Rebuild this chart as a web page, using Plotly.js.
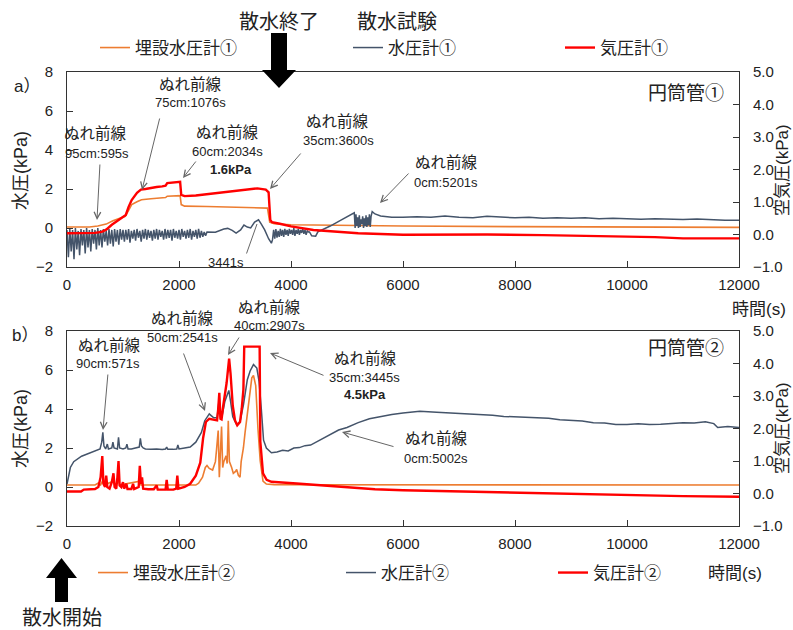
<!DOCTYPE html>
<html>
<head>
<meta charset="utf-8">
<script src="https://cdn.plot.ly/plotly-3.0.1.min.js"></script>
<style>
  html, body { margin: 0; padding: 0; background: #fff; }
  #chart { width: 793px; height: 630px; }
</style>
</head>
<body>
<div id="chart"></div>
<script>
// ---------- 円筒管① (time in s, pressure in kPa) ----------
const tOrange1 = [0,400,550,700,820,950,1040,1100,1155,1250,1330,1500,1660,1760,1790,1900,2020,2040,2100,2500,3000,3500,3580,3620,3700,4000,5000,6000,8000,10000,12000];
const vOrange1 = [0.05,0.05,0.1,0.2,0.37,0.5,0.6,0.9,1.2,1.35,1.45,1.5,1.54,1.56,1.63,1.64,1.66,1.2,1.12,1.1,1.08,1.06,1.02,0.3,0.22,0.17,0.12,0.1,0.07,0.05,0.03];

// 水圧計① : sampled bursts (start, interval) + explicit points
const blue1BurstA = [-0.1,-1.5,-0.05,-1.2,-0.1,-1.6,0.0,-1.1,-0.15,-1.4,-0.05,-0.9,-0.1,-1.3,0.0,-1.0,-0.1,-1.2,-0.05,-0.8,-0.1,-1.1,0.0,-0.9,-0.1,-1.0,-0.05,-0.7,-0.15,-0.9,-0.05,-0.8,-0.1,-0.95,-0.05,-0.7,-0.1,-0.85,-0.05,-0.6,-0.1,
  -0.7,-0.1,-0.6,-0.05,-0.75,-0.15,-0.55,-0.1,-0.65,-0.05,-0.5,-0.15,-0.7,-0.1,-0.55,-0.05,-0.6,-0.1,-0.5,-0.15,-0.65,-0.1,-0.55,-0.05,-0.6,-0.1,-0.45,-0.15,-0.6,-0.05,-0.55,-0.1,-0.5,-0.1,-0.65,-0.05,-0.5,-0.15,-0.55,-0.1,-0.6,-0.05,-0.45,-0.15,-0.55,-0.1,-0.5,-0.05,-0.6,-0.15,-0.45,-0.1,-0.55,-0.05,-0.5,-0.15,-0.45,-0.2,-0.4];
const blue1BurstAStart = 0, blue1BurstAStep = 25;
const tBlue1Mid = [2500,2650,2800,2870,2950,3020,3100,3160,3220,3280,3350,3420,3470,3530,3600,3650];
const vBlue1Mid = [-0.2,-0.22,-0.05,-0.02,-0.12,-0.26,-0.1,0.15,0.05,0.0,0.3,0.42,0.2,-0.1,-0.55,-0.78];
const blue1BurstB = [-0.6,-0.1,-0.55,-0.05,-0.5,-0.15,-0.45,-0.05,-0.4,-0.1,-0.45,-0.05,-0.35,-0.1,-0.4,-0.05,-0.3,-0.1,-0.35,0.0,-0.4,-0.1,-0.3,-0.05,-0.35,-0.1,-0.25,-0.05,-0.3,-0.1,-0.35,-0.15,-0.2];
const blue1BurstBStart = 3670, blue1BurstBStep = 20;
const tBlue1Ramp = [4330,4370,4440,4480,4520,4700,4900,5110];
const vBlue1Ramp = [-0.2,-0.4,-0.42,-0.2,-0.15,0.1,0.42,0.74];
const blue1BurstC = [0.78,0.0,0.7,0.1,0.55,0.0,0.65,0.05,0.45,0.2,0.6,0.0,0.5,0.1,0.65,0.05,0.55,0.15,0.7,0.05,0.6];
const blue1BurstCStart = 5130, blue1BurstCStep = 15;
const tBlue1Tail = [5450,5500,5600,5700,5800,6000,6250,6500,6750,7000,7250,7500,7750,8000,8250,8500,8750,9000,9250,9500,9750,10000,10250,10500,10750,11000,11250,11500,11750,12000];
const vBlue1Tail = [0.84,0.72,0.62,0.6,0.55,0.55,0.58,0.55,0.62,0.55,0.53,0.6,0.55,0.52,0.55,0.5,0.53,0.5,0.52,0.48,0.5,0.47,0.45,0.48,0.45,0.44,0.46,0.42,0.4,0.4];

// 気圧計① (right axis)
const tRed1 = [0,300,500,620,700,800,900,1000,1050,1100,1155,1250,1320,1400,1500,1600,1700,1760,1790,1900,2020,2040,2100,2300,2600,2900,3200,3400,3550,3600,3630,3660,3800,4000,4400,5200,6000,7500,8500,9500,10500,11000,12000];
const vRed1 = [0.04,0.04,0.05,0.08,0.15,0.3,0.42,0.52,0.6,0.85,1.06,1.28,1.38,1.4,1.44,1.46,1.48,1.5,1.58,1.6,1.62,1.22,1.18,1.2,1.26,1.33,1.4,1.42,1.38,1.3,0.45,0.38,0.33,0.25,0.14,0.04,-0.01,0.0,-0.02,-0.05,-0.08,-0.12,-0.12];

// ---------- 円筒管② ----------
const tOrange2 = [0,500,560,600,640,660,830,850,920,940,1300,1320,2300,2350,2420,2470,2500,2540,2600,2650,2670,2700,2720,2740,2760,2780,2800,2840,2860,2880,2900,2940,2970,3010,3030,3060,3090,3110,3150,3180,3240,3300,3330,3370,3410,3450,3500,3560,3700,12000];
const vOrange2 = [0.1,0.1,0.2,0.1,0.35,0.1,0.3,0.1,0.3,0.1,0.3,0.1,0.1,0.2,0.5,1.0,1.1,0.95,0.87,1.3,1.9,2.9,0.5,1.5,3.1,1.0,1.3,1.6,1.2,3.4,1.3,1.0,0.7,0.8,0.9,0.6,0.5,1.3,2.0,2.8,4.1,5.6,5.72,5.2,3.0,1.35,0.3,0.15,0.12,0.1];

const tBlue2 = [0,30,60,120,180,260,350,450,530,590,620,640,660,690,720,740,800,820,840,900,920,940,1000,1050,1070,1090,1150,1200,1290,1310,1330,1360,1400,1500,1600,1700,1760,1780,1800,1900,1960,1980,2000,2100,2200,2300,2400,2460,2500,2541,2580,2620,2680,2710,2740,2770,2820,2890,2920,2960,3030,3090,3150,3220,3270,3330,3390,3430,3470,3510,3560,3650,3750,3850,3950,4050,4150,4250,4350,4450,4550,4650,4750,4850,5000,5200,5400,5600,5800,6000,6300,6600,6800,7000,7200,7400,7600,7800,8000,8200,8400,8600,8800,9000,9200,9400,9600,9800,10000,10200,10400,10600,10800,11000,11200,11400,11550,11620,11800,12000];
const vBlue2 = [0.15,0.6,1.0,1.3,1.43,1.58,1.68,1.78,1.85,1.95,2.3,2.8,2.1,1.95,2.2,1.95,2.0,2.3,2.0,1.95,2.55,2.0,1.95,2.0,2.2,1.95,1.95,2.0,2.05,2.5,2.1,2.0,1.95,1.93,1.95,1.92,1.95,2.05,1.93,1.93,1.95,2.15,1.95,2.0,2.05,2.3,2.8,3.4,3.6,3.75,3.65,3.55,3.55,4.3,3.6,3.65,4.4,4.95,4.4,3.6,3.2,3.35,4.2,5.5,5.95,6.28,6.1,5.4,4.0,2.4,2.0,1.76,1.8,1.88,1.85,2.0,2.02,2.12,2.15,2.3,2.45,2.6,2.75,2.92,3.05,3.3,3.5,3.62,3.72,3.8,3.88,3.83,3.8,3.78,3.75,3.72,3.68,3.62,3.6,3.58,3.55,3.52,3.45,3.42,3.38,3.3,3.28,3.2,3.2,3.25,3.2,3.22,3.25,3.3,3.28,3.35,3.25,3.05,3.1,3.05];

const tRed2 = [0,250,300,400,500,560,600,630,650,680,700,720,760,800,830,850,880,900,920,940,970,1000,1020,1060,1080,1150,1180,1200,1280,1300,1320,1340,1360,1450,1550,1600,1620,1700,1760,1780,1800,1900,1950,1970,1990,2100,2200,2300,2380,2430,2480,2540,2600,2680,2700,2720,2740,2760,2790,2810,2850,2895,2920,2960,3000,3040,3090,3120,3150,3165,3440,3452,3500,3565,3650,4100,4500,5000,5500,6000,7000,8000,9000,10000,11000,12000];
const vRed2 = [0.06,0.06,0.12,0.12,0.14,0.2,0.5,1.15,0.3,0.2,0.55,0.2,0.15,0.35,0.62,0.2,0.15,0.5,1.0,0.25,0.2,0.35,0.15,0.3,0.14,0.14,0.3,0.14,0.2,0.85,0.3,0.5,0.15,0.13,0.13,0.25,0.12,0.12,0.12,0.42,0.12,0.12,0.15,0.55,0.15,0.2,0.3,0.55,0.95,1.7,2.2,2.3,2.28,2.25,2.6,3.1,2.3,2.28,2.7,2.9,3.4,4.15,3.7,2.7,2.25,2.1,2.2,2.6,3.2,4.52,4.52,1.6,0.62,0.42,0.36,0.31,0.26,0.18,0.13,0.1,0.06,0.03,-0.01,-0.04,-0.08,-0.1];

// ---------- assemble 水圧計① from its pieces ----------
function burstTimes(start, step, vals) { return vals.map((_, i) => start + i * step); }
const tBlue1 = [].concat(
  burstTimes(blue1BurstAStart, blue1BurstAStep, blue1BurstA), tBlue1Mid,
  burstTimes(blue1BurstBStart, blue1BurstBStep, blue1BurstB), tBlue1Ramp,
  burstTimes(blue1BurstCStart, blue1BurstCStep, blue1BurstC), tBlue1Tail);
const vBlue1 = [].concat(blue1BurstA, vBlue1Mid, blue1BurstB, vBlue1Ramp, blue1BurstC, vBlue1Tail);

// ---------- page geometry ----------
const FONT = 'Liberation Sans, Arial, "Noto Sans CJK JP", sans-serif';
const JP = '"Noto Sans CJK JP", sans-serif';
const L = 67, R = 739, T = 72, B = 526;
const px = x => (x - L) / (R - L);
const py = y => (B - y) / (B - T);

const C_ORANGE = '#ED7D31', C_BLUE = '#44546A', C_RED = '#FF0000';
const INK = '#222';

function line(x, y, name, color, width, xa, ya, legendId) {
  return { x, y, name, type: 'scatter', mode: 'lines', xaxis: xa, yaxis: ya,
           legend: legendId, showlegend: true, line: { color, width }, hoverinfo: 'skip' };
}

const traces = [
  line(tOrange1, vOrange1, '埋設水圧計①', C_ORANGE, 1.6, 'x', 'y', 'legend'),
  line(tBlue1, vBlue1, '水圧計①', C_BLUE, 1.5, 'x', 'y', 'legend2'),
  line(tRed1, vRed1, '気圧計①', C_RED, 2.4, 'x', 'y2', 'legend3'),
  line(tOrange2, vOrange2, '埋設水圧計②', C_ORANGE, 1.6, 'x2', 'y3', 'legend4'),
  line(tBlue2, vBlue2, '水圧計②', C_BLUE, 1.5, 'x2', 'y3', 'legend5'),
  line(tRed2, vRed2, '気圧計②', C_RED, 2.4, 'x2', 'y4', 'legend6')
];

const tickFont = { family: FONT, size: 15, color: INK };
function xAxis(anchor) {
  return { anchor, range: [0, 12000], tick0: 0, dtick: 2000, tickformat: 'd', ticks: 'inside', ticklen: 6,
           tickcolor: '#333', showline: true, linecolor: '#333', linewidth: 1, mirror: true,
           showgrid: false, zeroline: false, tickfont: tickFont, ticklabelstandoff: 4, fixedrange: true };
}
function yLeft(anchor, domain) {
  return { anchor, domain, range: [-2, 8], tick0: -2, dtick: 2, ticks: 'inside', ticklen: 6,
           tickcolor: '#333', showline: true, linecolor: '#333', linewidth: 1,
           showgrid: false, zeroline: false, tickfont: tickFont, ticklabelstandoff: 10, fixedrange: true };
}
function yRight(anchor, over) {
  return { anchor, overlaying: over, side: 'right', range: [-1, 5], tick0: -1, dtick: 1,
           tickformat: '.1f', ticks: 'inside', ticklen: 6, tickcolor: '#333', showline: true,
           linecolor: '#333', linewidth: 1, showgrid: false, zeroline: false,
           tickfont: tickFont, ticklabelstandoff: 10, fixedrange: true };
}
function legendAt(x, y) {
  return { x: px(x), y: py(y), xanchor: 'left', yanchor: 'middle', orientation: 'h',
           bgcolor: 'rgba(0,0,0,0)', borderwidth: 0, itemwidth: 30,
           font: { family: JP, size: 17, color: INK } };
}

// ---------- text and pointers ----------
const annos = [];
function label(x, y, text, size, extra) {
  annos.push(Object.assign({ xref: 'paper', yref: 'paper', x: px(x), y: py(y), text,
    showarrow: false, xanchor: 'center', yanchor: 'middle',
    font: { family: FONT, size, color: INK } }, extra || {}));
}
function pointer(x1, y1, x2, y2, head) {
  annos.push({ xref: 'paper', yref: 'paper', x: px(x2), y: py(y2), ax: x1 - x2, ay: y1 - y2,
    axref: 'pixel', ayref: 'pixel', text: '', showarrow: true, arrowhead: head,
    arrowsize: 1.3, arrowwidth: 1, arrowcolor: '#666', standoff: 0, startstandoff: 0 });
}
const WF = 'ぬれ前線';

// 円筒管①
label(95, 133, WF, 15.5);  label(97, 153, '95cm:595s', 13);   pointer(100, 163, 97, 220, 5);
label(190, 84, WF, 15.5);  label(190, 103, '75cm:1076s', 13); pointer(160, 117, 142, 190, 5);
label(227, 132, WF, 15.5); label(227, 151, '60cm:2034s', 13); label(231, 169, '<b>1.6kPa</b>', 13);
pointer(197, 160, 183, 178, 5);
label(337, 122, WF, 15.5); label(338, 140, '35cm:3600s', 13); pointer(302, 152, 270, 189, 5);
label(446, 162, WF, 15.5); label(446, 182, '0cm:5201s', 13);  pointer(410, 172, 380, 203, 5);
label(226, 262, '3441s', 13); pointer(246, 255, 257, 224, 0);
label(686, 93, '円筒管①', 19);
label(12, 86, 'a）', 17, { xanchor: 'left' });

// 円筒管②
label(109, 345, WF, 15.5); label(108, 363, '90cm:571s', 13);  pointer(108, 373, 103, 430, 5);
label(182, 318, WF, 15.5); label(182, 337, '50cm:2541s', 13); pointer(183, 352, 205, 411, 5);
label(269, 307, WF, 15.5); label(269, 325, '40cm:2907s', 13); pointer(240, 336, 228, 355, 5);
label(365, 358, WF, 15.5); label(364, 377, '35cm:3445s', 13); label(365, 394, '<b>4.5kPa</b>', 13);
pointer(325, 376, 270, 353, 5);
label(436, 438, WF, 15.5); label(436, 458, '0cm:5002s', 13);  pointer(395, 447, 342, 432, 5);
label(686, 348, '円筒管②', 19);
label(10, 335, 'b）', 17, { xanchor: 'left' });

// axis titles
label(21, 170, '水圧(kPa)', 18, { textangle: -90 });
label(21, 428, '水圧(kPa)', 18, { textangle: -90 });
label(782, 170, '空気圧(kPa)', 17, { textangle: -90 });
label(782, 428, '空気圧(kPa)', 17, { textangle: -90 });
label(759, 309, '時間(s)', 17);
label(735, 573, '時間(s)', 17);

// headings
label(279, 22, '散水終了', 20);
label(397, 22, '散水試験', 20);
label(62, 618, '散水開始', 20);

// block arrows
function blockArrow(pts) {
  return { type: 'path', xref: 'paper', yref: 'paper', fillcolor: '#000', line: { width: 0 },
           path: 'M' + pts.map(p => px(p[0]) + ',' + py(p[1])).join('L') + 'Z' };
}
const shapes = [
  blockArrow([[271,33],[287,33],[287,70],[296,70],[279,88],[262,70],[271,70]]),
  blockArrow([[55,602],[68,602],[68,578],[77,578],[61.5,558],[46,578],[55,578]])
];

const layout = {
  width: 793, height: 630,
  margin: { l: L, r: 793 - R, t: T, b: 630 - B, pad: 0, autoexpand: false },
  paper_bgcolor: '#fff', plot_bgcolor: '#fff',
  font: { family: FONT, color: INK },
  showlegend: true,
  xaxis: xAxis('y'),
  yaxis: yLeft('x', [py(267), 1]),
  yaxis2: yRight('x', 'y'),
  xaxis2: xAxis('y3'),
  yaxis3: yLeft('x2', [0, py(331)]),
  yaxis4: yRight('x2', 'y3'),
  legend: legendAt(95, 48),
  legend2: legendAt(348, 48),
  legend3: legendAt(560, 48),
  legend4: legendAt(93, 573),
  legend5: legendAt(341, 573),
  legend6: legendAt(553, 573),
  annotations: annos,
  shapes: shapes,
  hovermode: false
};

Plotly.newPlot('chart', traces, layout, { displayModeBar: false, staticPlot: true });
</script>
</body>
</html>
